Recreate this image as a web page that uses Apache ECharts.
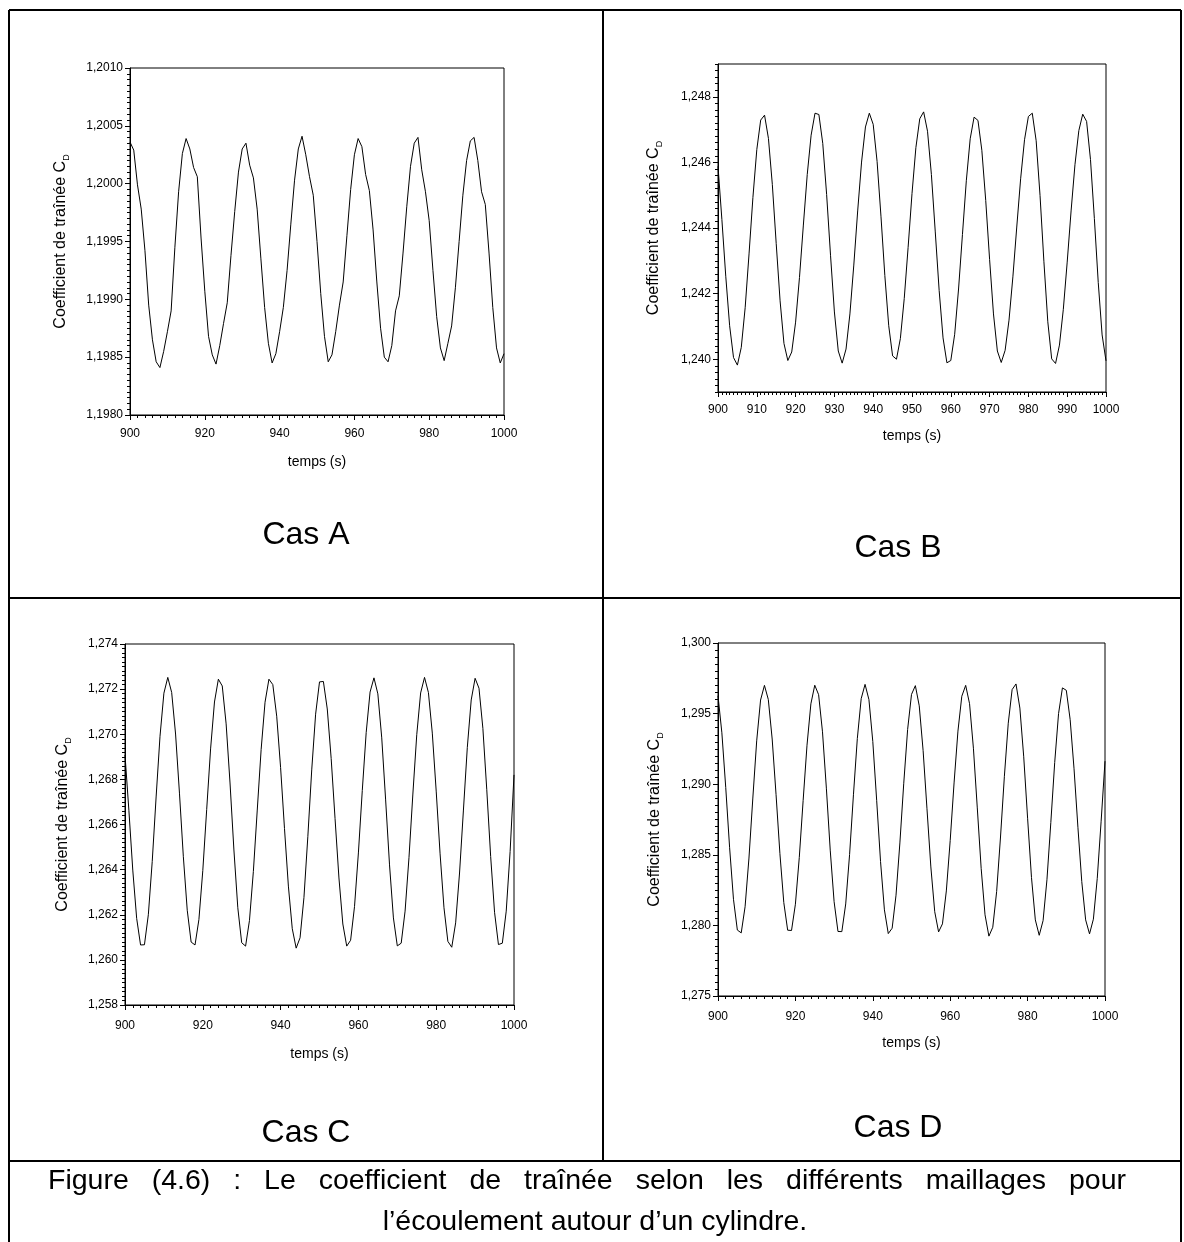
<!DOCTYPE html>
<html>
<head>
<meta charset="utf-8">
<script src="https://cdn.jsdelivr.net/npm/echarts@6/dist/echarts.min.js"></script>
<style>
html,body{margin:0;padding:0;background:#fff;}
#c{width:1184px;height:1242px;}
</style>
</head>
<body>
<div id="c"></div>
<script>
// ---------- data ----------
const time = [900,901,902,903,904,905,906,907,908,909,910,911,912,913,914,915,916,917,918,919,
920,921,922,923,924,925,926,927,928,929,930,931,932,933,934,935,936,937,938,939,
940,941,942,943,944,945,946,947,948,949,950,951,952,953,954,955,956,957,958,959,
960,961,962,963,964,965,966,967,968,969,970,971,972,973,974,975,976,977,978,979,
980,981,982,983,984,985,986,987,988,989,990,991,992,993,994,995,996,997,998,999,1000];

const cdA = [1.20036,1.20029,1.19999,1.19978,1.19942,1.19895,1.19865,1.19846,1.19841,1.19855,
1.19872,1.19890,1.19945,1.19993,1.20026,1.20039,1.20030,1.20014,1.20006,1.19953,
1.19907,1.19868,1.19852,1.19844,1.19860,1.19879,1.19897,1.19938,1.19976,1.20010,
1.20030,1.20035,1.20016,1.20005,1.19978,1.19935,1.19893,1.19862,1.19845,1.19853,
1.19872,1.19893,1.19925,1.19965,1.20003,1.20030,1.20041,1.20025,1.20006,1.19990,
1.19950,1.19905,1.19868,1.19846,1.19852,1.19872,1.19895,1.19915,1.19955,1.19995,
1.20025,1.20039,1.20032,1.20008,1.19994,1.19960,1.19915,1.19875,1.19850,1.19846,
1.19860,1.19890,1.19903,1.19940,1.19980,1.20015,1.20035,1.20040,1.20012,1.19993,
1.19968,1.19925,1.19885,1.19858,1.19847,1.19862,1.19877,1.19910,1.19950,1.19990,
1.20020,1.20037,1.20040,1.20020,1.19993,1.19982,1.19940,1.19893,1.19858,1.19845,1.19853];

const cdB = [1.24588,1.24426,1.24253,1.24102,1.24005,1.23982,1.24036,1.24157,1.24321,1.24493,
1.24639,1.24729,1.24744,1.24673,1.24533,1.24353,1.24178,1.24048,1.23996,1.24022,
1.24113,1.24249,1.24409,1.24563,1.24683,1.24750,1.24746,1.24658,1.24502,1.24317,
1.24144,1.24025,1.23988,1.24031,1.24138,1.24287,1.24452,1.24601,1.24708,1.24750,
1.24716,1.24603,1.24436,1.24255,1.24102,1.24010,1.24000,1.24063,1.24185,1.24341,
1.24505,1.24645,1.24733,1.24754,1.24695,1.24563,1.24388,1.24209,1.24065,1.23989,
1.23996,1.24076,1.24214,1.24380,1.24544,1.24672,1.24738,1.24728,1.24637,1.24484,
1.24304,1.24138,1.24025,1.23990,1.24027,1.24119,1.24251,1.24403,1.24550,1.24669,
1.24740,1.24750,1.24666,1.24499,1.24297,1.24114,1.24001,1.23987,1.24043,1.24152,
1.24296,1.24452,1.24593,1.24697,1.24747,1.24725,1.24609,1.24429,1.24234,1.24074,1.23995];

const cdC = [1.26908,1.26663,1.26398,1.26184,1.26066,1.26067,1.26200,1.26436,1.26722,1.26991,
1.27182,1.27252,1.27185,1.27001,1.26739,1.26457,1.26220,1.26079,1.26066,1.26179,
1.26396,1.26667,1.26935,1.27143,1.27244,1.27214,1.27046,1.26784,1.26487,1.26231,
1.26076,1.26061,1.26175,1.26392,1.26664,1.26933,1.27142,1.27244,1.27220,1.27080,
1.26852,1.26582,1.26327,1.26138,1.26052,1.26098,1.26276,1.26546,1.26842,1.27089,
1.27232,1.27234,1.27112,1.26893,1.26626,1.26363,1.26159,1.26061,1.26087,1.26236,
1.26474,1.26751,1.27007,1.27187,1.27250,1.27179,1.26984,1.26709,1.26421,1.26186,
1.26062,1.26074,1.26216,1.26453,1.26735,1.26998,1.27183,1.27252,1.27185,1.27005,
1.26748,1.26470,1.26231,1.26082,1.26056,1.26164,1.26385,1.26664,1.26942,1.27152,
1.27248,1.27204,1.27026,1.26754,1.26458,1.26211,1.26068,1.26074,1.26216,1.26480,1.26820];

const cdD = [1.29626,1.29364,1.28976,1.28550,1.28185,1.27967,1.27947,1.28132,1.28477,1.28902,
1.29307,1.29596,1.29700,1.29600,1.29320,1.28926,1.28508,1.28162,1.27966,1.27964,
1.28150,1.28480,1.28884,1.29276,1.29569,1.29701,1.29634,1.29371,1.28972,1.28533,
1.28168,1.27957,1.27956,1.28152,1.28502,1.28925,1.29323,1.29606,1.29707,1.29599,
1.29302,1.28886,1.28452,1.28110,1.27942,1.27980,1.28214,1.28584,1.29007,1.29388,
1.29636,1.29698,1.29555,1.29238,1.28826,1.28414,1.28097,1.27954,1.28011,1.28244,
1.28601,1.29009,1.29376,1.29623,1.29700,1.29570,1.29255,1.28832,1.28404,1.28075,
1.27924,1.27987,1.28239,1.28626,1.29056,1.29432,1.29670,1.29710,1.29539,1.29194,
1.28759,1.28340,1.28039,1.27930,1.28034,1.28323,1.28728,1.29153,1.29500,1.29682,
1.29665,1.29457,1.29109,1.28695,1.28310,1.28039,1.27940,1.28044,1.28333,1.28738,1.29163];

const yTicksB = [1.240,1.242,1.244,1.246,1.248];
const caseLabels = ['Cas A','Cas B','Cas C','Cas D'];
const xName = 'temps (s)';
const yName = 'Coefficient de traînée C';
const caption1 = 'Figure (4.6) : Le coefficient de traînée selon les différents maillages pour';
const caption2 = 'l\u2019écoulement autour d\u2019un cylindre.';

// ---------- chart ----------
const FONT = '"Liberation Sans", Arial, Helvetica, sans-serif';
const chart = echarts.init(document.getElementById('c'), null, {width:1184, height:1242});

const grids = [
  {left:130, top:68,  width:374, height:347},
  {left:718, top:64,  width:388, height:328},
  {left:125, top:644, width:389, height:361},
  {left:718, top:643, width:387, height:353}
];

function comma(d){ return v => v.toFixed(d).replace('.', ','); }
const lbl = {color:'#000', fontFamily:FONT, fontSize:12};

function xAxisFor(i, interval, margin, gap){
  return {
    type:'value', gridIndex:i, min:900, max:1000, interval:interval,
    axisLine:{show:true, lineStyle:{color:'#000', width:1}},
    axisTick:{show:true, length:5, lineStyle:{color:'#000', width:1}},
    minorTick:{show:true, splitNumber:10, length:3, lineStyle:{color:'#000', width:1}},
    splitLine:{show:false}, minorSplitLine:{show:false},
    axisLabel:Object.assign({margin:margin, formatter: v => String(Math.round(v))}, lbl),
    name:xName, nameLocation:'middle', nameGap:gap,
    nameTextStyle:{color:'#000', fontFamily:FONT, fontSize:14}
  };
}
function yNameOpts(gap){
  return {
    name:'{a|' + yName + '}{s|D}', nameLocation:'middle', nameGap:gap, nameRotate:90,
    nameTextStyle:{color:'#000', fontFamily:FONT, fontSize:16,
      rich:{a:{fontFamily:FONT, fontSize:16, color:'#000', lineHeight:20},
            s:{fontFamily:FONT, fontSize:9, color:'#000', lineHeight:9, verticalAlign:'bottom'}}}
  };
}
function yAxisFor(i, min, max, interval, dec, gap){
  return Object.assign({
    type:'value', gridIndex:i, min:min, max:max, interval:interval,
    axisLine:{show:true, lineStyle:{color:'#000', width:1}},
    axisTick:{show:true, length:5, lineStyle:{color:'#000', width:1}},
    minorTick:{show:true, splitNumber:10, length:3, lineStyle:{color:'#000', width:1}},
    splitLine:{show:false}, minorSplitLine:{show:false},
    axisLabel:Object.assign({margin:7, formatter:comma(dec)}, lbl)
  }, yNameOpts(gap));
}

const yAxes = [
  yAxisFor(0, 1.198, 1.201, 0.0005, 4, 59),
  Object.assign({
    type:'value', gridIndex:1, min:1.239, max:1.249,
    axisLine:{show:true, lineStyle:{color:'#000', width:1}},
    axisTick:{show:true, length:5, customValues:yTicksB, lineStyle:{color:'#000', width:1}},
    splitLine:{show:false},
    axisLabel:Object.assign({margin:7, customValues:yTicksB, formatter:comma(3)}, lbl)
  }, yNameOpts(54)),
  yAxisFor(2, 1.258, 1.274, 0.002, 3, 52),
  yAxisFor(3, 1.275, 1.300, 0.005, 3, 53),
  // minor ticks for panel B
  {type:'value', gridIndex:1, min:1.239, max:1.249, interval:0.0002, position:'left',
   axisLine:{show:false}, axisLabel:{show:false}, splitLine:{show:false},
   axisTick:{show:true, length:3, lineStyle:{color:'#000', width:1}}}
];

const seriesData = [cdA, cdB, cdC, cdD];
const series = seriesData.map((vals, i) => ({
  type:'line', xAxisIndex:i, yAxisIndex:i, showSymbol:false, symbol:'none',
  lineStyle:{color:'#000', width:1}, itemStyle:{color:'#000'},
  data: time.map((t, k) => [t, vals[k]]), animation:false
}));

function line(x1,y1,x2,y2){
  return {type:'line', shape:{x1:x1,y1:y1,x2:x2,y2:y2}, style:{stroke:'#000', lineWidth:2}, silent:true};
}
function text(str, x, y, size, align){
  return {type:'text', x:x, y:y, silent:true,
    style:{text:str, fill:'#000', font: size + 'px ' + FONT, align:align || 'center', verticalAlign:'middle',
           textAlign:align || 'center', textVerticalAlign:'middle'}};
}

// justified first caption line (words spread between the two margins)
function justified(str, x0, x1, y, size){
  const ctx = document.createElement('canvas').getContext('2d');
  ctx.font = size + 'px ' + FONT;
  const words = str.split(' ');
  const widths = words.map(w => ctx.measureText(w).width);
  const total = widths.reduce((a,b)=>a+b, 0);
  const gapW = (x1 - x0 - total) / (words.length - 1);
  const out = [];
  let x = x0;
  words.forEach((w, k) => { out.push(text(w, x, y, size, 'left')); x += widths[k] + gapW; });
  return out;
}

const graphic = [
  line(9,10,1181,10),
  line(9,10,9,1242),
  line(1181,10,1181,1242),
  line(603,10,603,1161),
  line(9,598,1181,598),
  line(9,1161,1181,1161),
  text(caseLabels[0], 306, 535, 32),
  text(caseLabels[1], 898, 548, 32),
  text(caseLabels[2], 306, 1133, 32),
  text(caseLabels[3], 898, 1128, 32),
  text(caption2, 595, 1222, 28.5)
].concat(justified(caption1, 48, 1126, 1181, 28.5));

chart.setOption({
  animation:false,
  backgroundColor:'#fff',
  grid: grids.map(g => Object.assign({show:true, borderColor:'#000', borderWidth:1, backgroundColor:'transparent', containLabel:false}, g)),
  xAxis:[xAxisFor(0,20,13,40), xAxisFor(1,10,12,37), xAxisFor(2,20,15,42), xAxisFor(3,20,15,40)],
  yAxis:yAxes,
  series:series,
  graphic:graphic
});
</script>
</body>
</html>
